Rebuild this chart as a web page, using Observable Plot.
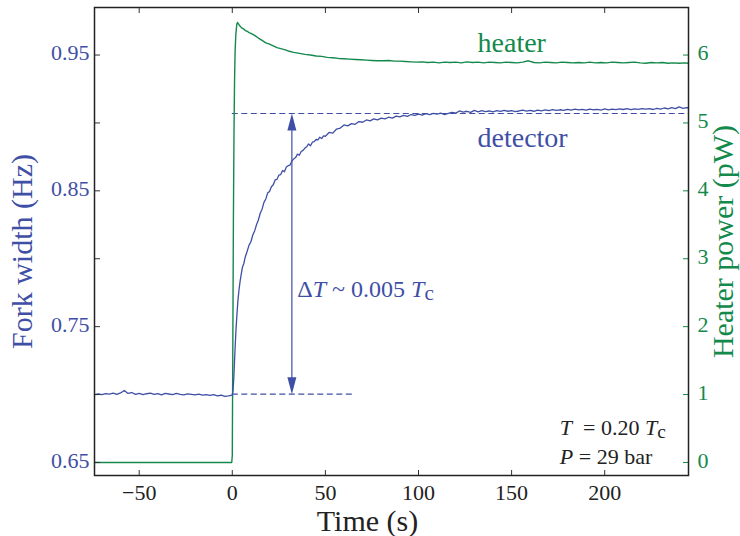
<!DOCTYPE html>
<html><head><meta charset="utf-8">
<script src="https://cdn.jsdelivr.net/npm/d3@7"></script>
<script src="https://cdn.jsdelivr.net/npm/@observablehq/plot@0.6"></script>
<style>
html,body{margin:0;padding:0;background:#fff;}
text{white-space:pre;}
</style></head><body><div id="chart"></div>
<script>
// ---- data ----
const detTime = [-74,-72,-70,-68,-66,-64,-62,-60,-58,-56,-54,-52,-50,-48,-46,-44,-42,-40,-38,-36,-34,-32,-30,-28,-26,-24,-22,-20,-18,-16,-14,-12,-10,-8,-6,-4,-2,0,
 0.4,0.8,1.2,1.6,2.0,2.5,3.0,3.6,4.2,4.8,5.4,6.2,7,8,9,10,11,12,13,14,15,16,17,18,19,20,21,22,23,24,25,26,27,28,29,30,31,32,33,34,35,36,37,38,39,40,41,42,43,44,45,46,47,48,49,50,
 52,54,56,58,60,62,64,66,68,70,72,74,76,78,80,82,84,86,88,90,92,94,96,98,100,102,104,106,108,110,112,114,116,118,120,122,124,126,128,130,132,134,136,138,140,142,144,146,148,150,
 152,154,156,158,160,162,164,166,168,170,172,174,176,178,180,182,184,186,188,190,192,194,196,198,200,202,204,206,208,210,212,214,216,218,220,222,224,226,228,230,232,234,236,238,240,242,244,245];
const detWidth = [0.7000,0.7004,0.6999,0.7007,0.7003,0.7010,0.7002,0.7012,0.7030,0.7008,0.7015,0.7001,0.7009,0.6999,0.7006,0.7011,0.7002,0.7007,0.6998,0.7009,0.7004,0.7000,0.7008,0.7002,0.6998,0.7005,0.7001,0.6997,0.7003,0.6996,0.7000,0.6994,0.6999,0.6991,0.6995,0.6986,0.6990,0.6996,
 0.7030,0.7120,0.7245,0.7370,0.7480,0.7590,0.7690,0.7770,0.7835,0.7885,0.7935,0.7965,0.8015,0.8055,0.8100,0.8125,0.8175,0.8205,0.8250,0.8285,0.8335,0.8365,0.8415,0.8440,0.8485,0.8495,0.8530,0.8545,0.8580,0.8585,0.8615,0.8620,0.8650,0.8640,0.8675,0.8685,0.8690,0.8720,0.8735,0.8745,0.8770,0.8762,0.8790,0.8798,0.8815,0.8825,0.8845,0.8832,0.8858,0.8862,0.8878,0.8875,0.8895,0.8885,0.8905,0.8902,
 0.8930,0.8925,0.8955,0.8962,0.8985,0.8978,0.8995,0.8990,0.9010,0.9005,0.9022,0.9015,0.9030,0.9022,0.9035,0.9030,0.9042,0.9036,0.9050,0.9044,0.9055,0.9048,0.9062,0.9055,0.9065,0.9058,0.9068,0.9062,0.9070,0.9065,0.9072,0.9062,0.9070,0.9078,0.9072,0.9088,0.9080,0.9086,0.9078,0.9092,0.9082,0.9090,0.9084,0.9088,0.9082,0.9090,0.9085,0.9092,0.9086,0.9090,
 0.9084,0.9088,0.9095,0.9087,0.9092,0.9086,0.9094,0.9089,0.9096,0.9090,0.9098,0.9092,0.9097,0.9093,0.9100,0.9094,0.9101,0.9096,0.9100,0.9094,0.9102,0.9097,0.9100,0.9095,0.9103,0.9097,0.9102,0.9098,0.9104,0.9099,0.9105,0.9098,0.9104,0.9100,0.9106,0.9101,0.9105,0.9099,0.9108,0.9102,0.9110,0.9104,0.9112,0.9105,0.9118,0.9108,0.9113,0.9110];

const heatTime = [-74,-0.3,0,0.3,0.6,0.9,1.2,1.5,1.9,2.4,2.8,3.3,4,5,6,7,8,9,10,12,14,16,18,20,22,24,26,28,30,33,36,39,42,45,48,51,54,57,60,63,66,69,72,75,78,81,84,87,90,93,96,99,
 102,105,108,111,114,117,120,123,126,129,132,135,138,141,144,147,150,153,156,159,162,165,168,171,174,177,180,183,186,189,192,195,198,201,204,207,210,213,216,219,222,225,228,231,234,237,240,243,245];
const heatPower = [0,0,0.1,1.8,3.6,4.8,5.6,6.05,6.3,6.45,6.48,6.46,6.43,6.40,6.385,6.36,6.35,6.33,6.32,6.29,6.25,6.215,6.18,6.16,6.135,6.11,6.095,6.08,6.06,6.04,6.025,6.01,6.0,5.985,5.98,5.965,5.96,5.95,5.945,5.94,5.935,5.93,5.925,5.92,5.915,5.915,5.92,5.91,5.91,5.905,5.90,5.895,
 5.90,5.89,5.895,5.885,5.895,5.89,5.895,5.885,5.90,5.89,5.895,5.885,5.895,5.89,5.885,5.895,5.89,5.885,5.895,5.915,5.89,5.885,5.895,5.89,5.885,5.895,5.89,5.885,5.89,5.885,5.895,5.885,5.89,5.885,5.895,5.89,5.885,5.89,5.895,5.885,5.88,5.89,5.885,5.89,5.88,5.885,5.88,5.885,5.88];

const timeTicks = [-50,0,50,100,150,200];
const widthLabelTicks = [0.65,0.75,0.85,0.95];
const widthTicks = [0.65,0.70,0.75,0.80,0.85,0.90,0.95];
const powerTicks = [0,1,2,3,4,5,6];
const levelBefore = 0.7003;   // dashed level before heating
const levelAfter = 0.907;     // dashed level after heating
const arrowTime = 32;

// right axis (pW) shares the left scale: 0 pW ↔ 0.65 Hz, 6 pW ↔ 0.95 Hz
const powerToWidth = p => 0.65 + p * 0.05;

const det = detTime.map((t, i) => ({t, w: detWidth[i]}));
const heat = heatTime.map((t, i) => ({t, p: heatPower[i]}));

const blue = "#3f4fa5", green = "#14894c", ink = "#222";
const serif = "Liberation Serif";

const headShape = {draw(ctx, l) { ctx.moveTo(0, -l); ctx.lineTo(-4.5, 0); ctx.lineTo(4.5, 0); ctx.closePath(); }};

const plot = Plot.plot({
  width: 740, height: 536,
  marginLeft: 94, marginRight: 52, marginTop: 7, marginBottom: 61,
  x: {domain: [-74, 245]},
  y: {domain: [0.6404, 0.985]},
  marks: [
    Plot.ruleY([levelAfter], {x1: 0, x2: 245, stroke: blue, strokeWidth: 1.1, strokeDasharray: "6,3.5"}),
    Plot.ruleY([levelBefore], {x1: 0, x2: 65, stroke: blue, strokeWidth: 1.1, strokeDasharray: "6,3.5"}),
    Plot.line(heat, {x: "t", y: d => powerToWidth(d.p), stroke: green, strokeWidth: 1.4}),
    Plot.line(det, {x: "t", y: "w", stroke: blue, strokeWidth: 1.3}),
    Plot.ruleX([arrowTime], {y1: levelBefore + 0.005, y2: levelAfter - 0.005, stroke: blue, strokeWidth: 1.2}),
    Plot.vector([levelAfter], {x: arrowTime, y: d => d, length: 17, rotate: 0, anchor: "end", shape: headShape, fill: blue, stroke: "none"}),
    Plot.vector([levelBefore], {x: arrowTime, y: d => d, length: 17, rotate: 180, anchor: "end", shape: headShape, fill: blue, stroke: "none"}),
    // annotations
    Plot.text(["heater"], {x: 131.7, y: 0.9521, textAnchor: "start", lineAnchor: "bottom", fill: green, fontSize: 28}),
    Plot.text(["detector"], {x: 131.7, y: 0.8821, textAnchor: "start", lineAnchor: "bottom", fill: blue, fontSize: 28}),
    Plot.text(["ΔT ~ 0.005 Tc"], {x: 34.9, y: 0.7717, textAnchor: "start", lineAnchor: "bottom", fill: blue, fontSize: 24}),
    Plot.text(["T = 0.20 Tc"], {x: 175.9, y: 0.6699, textAnchor: "start", lineAnchor: "bottom", fill: ink, fontSize: 22}),
    Plot.text(["P = 29 bar"], {x: 175.9, y: 0.649, textAnchor: "start", lineAnchor: "bottom", fill: ink, fontSize: 22}),
    // axis titles
    Plot.text(["Fork width (Hz)"], {frameAnchor: "left", textAnchor: "middle", rotate: -90, dx: -72, dy: 10, fill: blue, fontSize: 30}),
    Plot.text(["Heater power (pW)"], {frameAnchor: "right", textAnchor: "middle", rotate: -90, dx: 35, dy: 0, fill: green, fontSize: 30}),
    Plot.text(["Time (s)"], {frameAnchor: "bottom", textAnchor: "middle", dx: -24, dy: 55, lineAnchor: "bottom", fill: ink, fontSize: 30}),
    // inward ticks
    Plot.axisX(timeTicks, {anchor: "bottom", tickSize: 5, dy: -5, tickFormat: () => "", label: null, stroke: "#333"}),
    Plot.axisX(timeTicks, {anchor: "top", tickSize: 5, dy: 5, tickFormat: () => "", label: null, stroke: "#333"}),
    Plot.axisY(widthTicks, {anchor: "left", tickSize: 6, dx: 6, tickFormat: () => "", label: null, stroke: "#333"}),
    Plot.axisY(powerTicks.map(powerToWidth), {anchor: "right", tickSize: 6, dx: -6, tickFormat: () => "", label: null, stroke: green}),
    // tick labels
    Plot.axisX(timeTicks, {anchor: "bottom", tickSize: 0, tickPadding: 9, tickFormat: d3.format("d"), label: null, fill: ink, fontSize: 22}),
    Plot.axisY(widthLabelTicks, {anchor: "left", tickSize: 0, tickPadding: 5, dy: -2, tickFormat: d3.format(".2f"), label: null, fill: blue, fontSize: 22}),
    Plot.axisY(powerTicks.map(powerToWidth), {anchor: "right", tickSize: 0, tickPadding: 9, dy: -2, tickFormat: d => String(Math.round((d - 0.65) / 0.05)), label: null, fill: green, fontSize: 22}),
    Plot.frame({stroke: "#222", strokeWidth: 1.5})
  ]
});

// serif font everywhere
d3.select(plot).attr("font-family", serif).style("font-family", serif).style("background", "white");
d3.select(plot).selectAll("text").attr("font-family", serif).style("font-family", serif);

// rich text: italic symbols and subscripts
const rich = {
  "ΔT ~ 0.005 Tc": [["Δ"], ["T", "italic"], [" ~ 0.005 "], ["T", "italic"], ["c", "sub"]],
  "T = 0.20 Tc": [["T", "italic"], ["  = 0.20 "], ["T", "italic"], ["c", "sub"]],
  "P = 29 bar": [["P", "italic"], [" = 29 bar"]]
};
d3.select(plot).selectAll("text").each(function() {
  const parts = rich[this.textContent];
  if (!parts) return;
  const sel = d3.select(this);
  sel.text(null);
  for (const [s, kind] of parts) {
    const ts = sel.append("tspan").text(s);
    if (kind === "italic") ts.attr("font-style", "italic");
    if (kind === "sub") ts.attr("font-size", "0.88em").attr("dy", "0.12em");
  }
});

document.getElementById("chart").appendChild(plot);
</script>
</body></html>
